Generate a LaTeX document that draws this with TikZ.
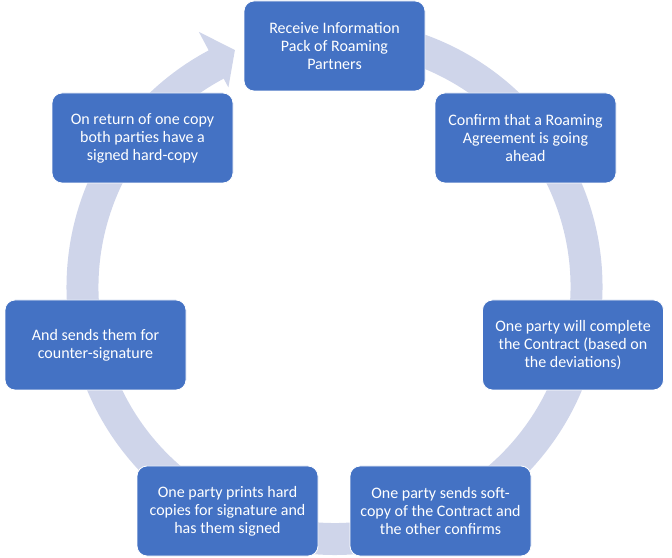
\documentclass[tikz,border=0pt]{standalone}
\usepackage{fontspec}
\setmainfont{Carlito}
\usepackage{tikz}
\definecolor{boxblue}{HTML}{4472C4}
\definecolor{ringgrey}{HTML}{CFD5EA}

\begin{document}
\begin{tikzpicture}[x=1pt,y=1pt]
  \tikzset{ST/.style={rectangle, rounded corners=10pt, fill=boxblue, draw=white,
      line width=0.8pt, text=white, minimum width=181pt, minimum height=90pt,
      align=center, font=\fontsize{16}{18}\selectfont}}
  \tikzset{RG/.style={fill=ringgrey}}
  \useasboundingbox (0,0) rectangle (672,557);
  \coordinate (c) at (334.5,270);

  % cycle arrow behind the steps
  \fill[RG, shift={(c)}] (85:268) arc[start angle=85, end angle=-242, radius=268]
    -- (118:289) -- (112.8:257) -- (118:226) -- (118:236)
    arc[start angle=118, end angle=445, radius=236] -- cycle;

  \node [ST] (n1) at (334.5,511) {Receive Information\\Pack of Roaming\\Partners};
  \node [ST] (n2) at (525.5,419) {Confirm that a Roaming\\Agreement is going\\ahead};
  \node [ST] (n3) at (573,212)   {One party will complete\\the Contract (based on\\the deviations)};
  \node [ST] (n4) at (440.5,46)  {One party sends soft-\\copy of the Contract and\\the other confirms};
  \node [ST] (n5) at (227.5,46)  {One party prints hard\\copies for signature and\\has them signed};
  \node [ST] (n6) at (95.5,212)  {And sends them for\\counter-signature};
  \node [ST] (n7) at (142.5,419) {On return of one copy\\both parties have a\\signed hard-copy};
\end{tikzpicture}
\end{document}
